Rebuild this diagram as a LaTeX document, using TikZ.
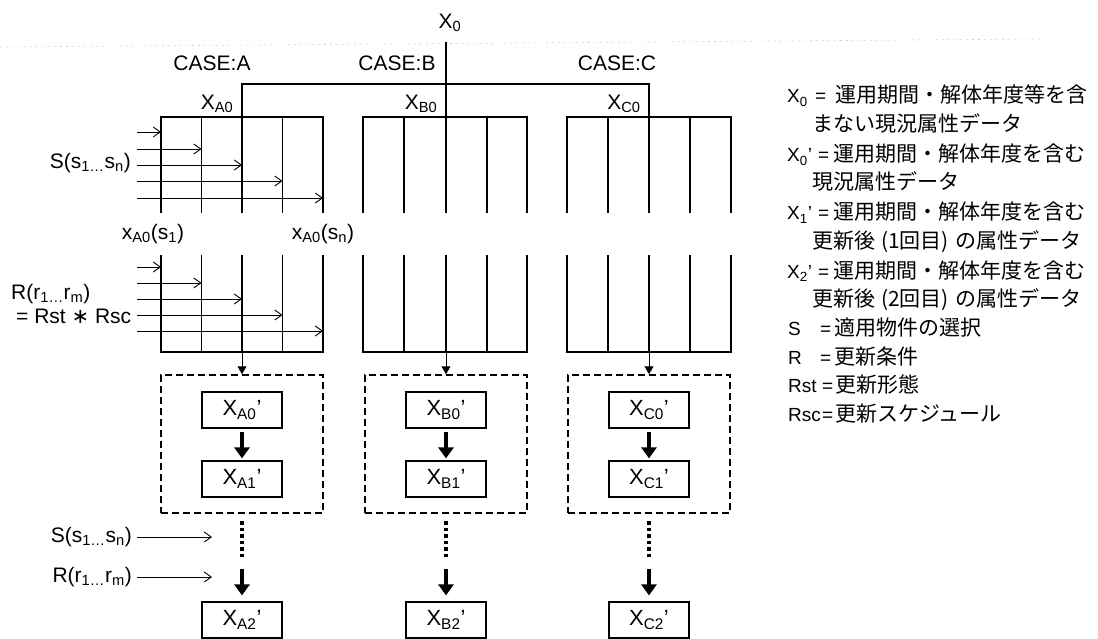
\documentclass[tikz,border=0pt]{standalone}
\usepackage{fontspec}
\setmainfont{Liberation Sans}
\newfontfamily\jpf{Noto Sans CJK JP}
\newfontfamily\dvf{DejaVu Sans}
\usetikzlibrary{arrows.meta}
\newcommand\sbx[1]{\textsubscript{#1}}
\begin{document}
\begin{tikzpicture}[x=1pt,y=-1pt,
  lbl/.style={font=\fontsize{21}{23}\selectfont, inner sep=0pt},
  leg/.style={font=\fontsize{19}{21}\selectfont, inner sep=0pt, anchor=base west},
  jtx/.style={font=\fontsize{21}{23}\selectfont\jpf, inner sep=0pt, anchor=base west},
  gridline/.style={line width=1.3pt},
  sarrow/.style={line width=0.9pt, -{Straight Barb[length=7pt,width=10pt]}},
  droparrow/.style={line width=1pt, -{Triangle[length=8pt,width=9pt]}},
  fatarrow/.style={line width=4.5pt, -{Triangle[length=11pt,width=15pt]}},
  dbox/.style={draw, dash pattern=on 7pt off 4pt, line width=1.5pt, inner sep=0pt},
  ibox/.style={draw, line width=1.2pt, minimum width=80pt, minimum height=36pt, inner sep=0pt, font=\fontsize{22}{24}\selectfont},
  dotline/.style={line width=4pt, dash pattern=on 3.5pt off 3pt}
]
\useasboundingbox (0,0) rectangle (1098,639);
% faint scan line
\draw[gray!35, line width=0.6pt, dash pattern=on 2pt off 4pt] (0,47) -- (1040,39);

% top labels
\node[lbl] (x0) at (450,23) {X\sbx{0}};
\node[lbl] (caseA) at (212,63) {CASE:A};
\node[lbl] (caseB) at (397,63) {CASE:B};
\node[lbl] (caseC) at (617,63) {CASE:C};
\node[lbl] (xa0) at (217,104) {X\sbx{A0}};
\node[lbl] (xb0) at (421,104) {X\sbx{B0}};
\node[lbl] (xc0) at (624,104) {X\sbx{C0}};

% grids
\foreach \c/\xa/\xb/\xc/\xd/\xe in {A/161/201.5/242/282.5/323, B/363/404/446/487/527, C/567/608/649/690/731} {
  \draw[gridline] (\xa,213) -- (\xa,117) -- (\xe,117) -- (\xe,213);
  \foreach \x in {\xb,\xc,\xd} \draw[gridline] (\x,117) -- (\x,213);
  \draw[gridline] (\xa,255) -- (\xa,352) -- (\xe,352) -- (\xe,255);
  \foreach \x in {\xb,\xc,\xd} \draw[gridline] (\x,255) -- (\x,352);
  \coordinate (top\c) at (\xc,117);
  \coordinate (g\c) at (\xc,352);
}
% bracket from X0
\coordinate (brA) at (242,84);
\coordinate (brC) at (649,84);
\draw[gridline] (topA) -- (brA) -- (brC) -- (topC);
\coordinate (x0s) at (446,42);
\draw[gridline] (x0s) -- (topB);

% S arrows into upper grid A
\node[lbl, anchor=east] (Slab) at (131,163) {S(s\sbx{1…}s\sbx{n})};
\foreach \i/\y/\x in {1/132/161, 2/149/201.5, 3/165/242, 4/181/282.5, 5/198/323} {
  \coordinate (ss\i) at (137,\y);
  \coordinate (se\i) at (\x,\y);
  \draw[sarrow] (ss\i) -- (se\i);
}
% labels between grids
\node[lbl] (xs1) at (153,234) {x\sbx{A0}(s\sbx{1})};
\node[lbl] (xsn) at (323,234) {x\sbx{A0}(s\sbx{n})};

% R arrows into lower grid A
\node[lbl, anchor=west] (Rlab) at (11,294) {R(r\sbx{1…}r\sbx{m})};
\node[lbl, anchor=west] (Rlab2) at (16,316) {= Rst {\dvf ∗} Rsc};
\foreach \i/\y/\x in {1/267/161, 2/283/201.5, 3/299/242, 4/315/282.5, 5/331/323} {
  \coordinate (rs\i) at (137,\y);
  \coordinate (re\i) at (\x,\y);
  \draw[sarrow] (rs\i) -- (re\i);
}

% dashed boxes and result chains
\foreach \c/\x in {A/242, B/446, C/649} {
  \node[dbox, minimum width=162pt, minimum height=138pt] (d\c) at (\x,444) {};
  \draw[droparrow] (g\c) -- (d\c.north);
  \node[ibox] (\c0) at (\x,410) {X\sbx{\c0}’};
  \node[ibox] (\c1) at (\x,479) {X\sbx{\c1}’};
  \node[ibox] (\c2) at (\x,620) {X\sbx{\c2}’};
  \draw[fatarrow, shorten <=3pt, shorten >=2pt] (\c0.south) -- (\c1.north);
  \coordinate (p\c) at (\x,521);
  \coordinate (q\c) at (\x,557);
  \draw[dotline] (p\c) -- (q\c);
  \coordinate (f\c) at (\x,569);
  \draw[fatarrow, shorten >=6pt] (f\c) -- (\c2.north);
}

% bottom S and R inputs
\node[lbl, anchor=east] (Sb) at (132,537) {S(s\sbx{1…}s\sbx{n})};
\coordinate (Sbe) at (212,537);
\draw[sarrow] ([xshift=5pt]Sb.east) -- (Sbe);
\node[lbl, anchor=east] (Rb) at (132,577) {R(r\sbx{1…}r\sbx{m})};
\coordinate (Rbe) at (212,577);
\draw[sarrow] ([xshift=5pt]Rb.east) -- (Rbe);

% legend
\node[leg] (l1s) at (787,103) {X\sbx{0}};
\node[leg] (l1e) at (815,103) {=};
\node[jtx] (l1t) at (835,103) {運用期間・解体年度等を含};
\node[jtx] (l1c) at (812,132) {まない現況属性データ};
\node[leg] (l2s) at (787,162) {X\sbx{0}’};
\node[leg] (l2e) at (818,162) {=};
\node[jtx] (l2t) at (833,162) {運用期間・解体年度を含む};
\node[jtx] (l2c) at (812,190) {現況属性データ};
\node[leg] (l3s) at (787,220) {X\sbx{1}’};
\node[leg] (l3e) at (818,220) {=};
\node[jtx] (l3t) at (833,220) {運用期間・解体年度を含む};
\node[jtx] (l3c) at (812,249) {更新後\kern6pt(1回目)\kern6pt の属性データ};
\node[leg] (l4s) at (787,278) {X\sbx{2}’};
\node[leg] (l4e) at (818,278) {=};
\node[jtx] (l4t) at (833,278) {運用期間・解体年度を含む};
\node[jtx] (l4c) at (812,306) {更新後\kern6pt(2回目)\kern6pt の属性データ};
\node[leg] (l5s) at (788,335) {S};
\node[leg] (l5e) at (820,335) {=};
\node[jtx] (l5t) at (834,335) {適用物件の選択};
\node[leg] (l6s) at (788,364) {R};
\node[leg] (l6e) at (820,364) {=};
\node[jtx] (l6t) at (834,364) {更新条件};
\node[leg] (l7s) at (788,392) {Rst};
\node[leg] (l7e) at (822,392) {=};
\node[jtx] (l7t) at (835,392) {更新形態};
\node[leg] (l8s) at (788,421) {Rsc};
\node[leg] (l8e) at (822,421) {=};
\node[jtx] (l8t) at (835,421) {更新スケジュール};
\end{tikzpicture}
\end{document}
